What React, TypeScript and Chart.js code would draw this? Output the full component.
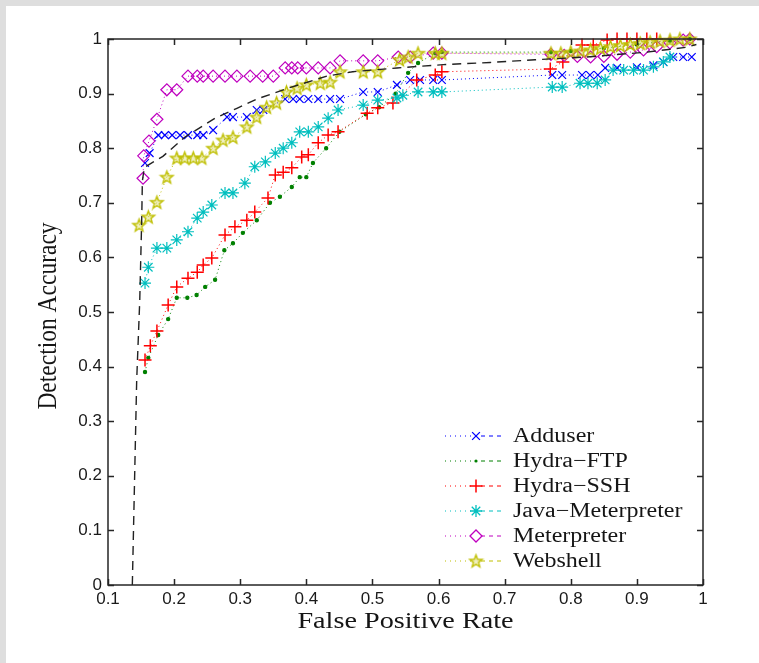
import { useEffect, useRef } from "react";
import { Chart, registerables } from "chart.js";
Chart.register(...registerables);

// ---------- data ----------
const seriesNames = ["Adduser", "Hydra−FTP", "Hydra−SSH", "Java−Meterpreter", "Meterpreter", "Webshell"];
const xTitle = "False Positive Rate";
const yTitle = "Detection Accuracy";

const adduser: [number, number][] = [
  [0.156, 0.773], [0.163, 0.791], [0.176, 0.824], [0.186, 0.824], [0.197, 0.824], [0.209, 0.824],
  [0.221, 0.824], [0.235, 0.824], [0.244, 0.824], [0.259, 0.833], [0.28, 0.857], [0.289, 0.857],
  [0.31, 0.857], [0.325, 0.87], [0.335, 0.87], [0.368, 0.89], [0.38, 0.89], [0.39, 0.89],
  [0.403, 0.89], [0.418, 0.89], [0.436, 0.89], [0.451, 0.89], [0.486, 0.903], [0.508, 0.903],
  [0.537, 0.916], [0.557, 0.925], [0.572, 0.925], [0.592, 0.925], [0.605, 0.925], [0.772, 0.934],
  [0.787, 0.934], [0.817, 0.934], [0.829, 0.934], [0.841, 0.934], [0.852, 0.947], [0.87, 0.947],
  [0.9, 0.948], [0.925, 0.952], [0.94, 0.958], [0.955, 0.967], [0.97, 0.967], [0.983, 0.967],
];

const hydraFtp: [number, number][] = [
  [0.156, 0.39], [0.161, 0.416], [0.176, 0.458], [0.191, 0.487], [0.204, 0.526], [0.22, 0.526],
  [0.234, 0.531], [0.247, 0.546], [0.262, 0.559], [0.276, 0.613], [0.289, 0.626], [0.304, 0.645],
  [0.325, 0.668], [0.345, 0.7], [0.36, 0.711], [0.378, 0.729], [0.39, 0.747], [0.4, 0.747],
  [0.41, 0.773], [0.43, 0.8], [0.45, 0.83], [0.49, 0.862], [0.51, 0.875], [0.535, 0.9],
  [0.554, 0.938], [0.569, 0.956], [0.595, 0.974], [0.605, 0.976], [0.77, 0.976], [0.8, 0.978],
  [0.85, 0.983], [0.9, 0.99], [0.95, 0.997], [0.98, 1.0],
];

const hydraSsh: [number, number][] = [
  [0.156, 0.412], [0.164, 0.438], [0.174, 0.465], [0.191, 0.513], [0.204, 0.546], [0.221, 0.562],
  [0.235, 0.573], [0.244, 0.586], [0.257, 0.599], [0.277, 0.641], [0.292, 0.656], [0.31, 0.668],
  [0.322, 0.683], [0.342, 0.709], [0.353, 0.751], [0.365, 0.756], [0.378, 0.764], [0.393, 0.784],
  [0.403, 0.788], [0.418, 0.81], [0.433, 0.824], [0.448, 0.83], [0.492, 0.864], [0.508, 0.874],
  [0.531, 0.883], [0.567, 0.925], [0.595, 0.934], [0.605, 0.94], [0.769, 0.945], [0.788, 0.958],
  [0.817, 0.989], [0.834, 0.989], [0.855, 0.998], [0.87, 1.0], [0.885, 1.0], [0.9, 1.0],
  [0.915, 1.0], [0.93, 1.0],
];

const javaMeterpreter: [number, number][] = [
  [0.156, 0.553], [0.161, 0.582], [0.174, 0.617], [0.189, 0.617], [0.204, 0.632], [0.221, 0.647],
  [0.235, 0.672], [0.244, 0.683], [0.257, 0.696], [0.277, 0.718], [0.289, 0.718], [0.307, 0.736],
  [0.322, 0.766], [0.338, 0.775], [0.353, 0.791], [0.365, 0.8], [0.378, 0.81], [0.39, 0.83],
  [0.403, 0.83], [0.418, 0.839], [0.433, 0.855], [0.448, 0.87], [0.486, 0.879], [0.508, 0.888],
  [0.537, 0.892], [0.546, 0.897], [0.569, 0.903], [0.592, 0.903], [0.605, 0.903], [0.772, 0.912],
  [0.787, 0.912], [0.814, 0.919], [0.826, 0.919], [0.84, 0.919], [0.852, 0.925], [0.864, 0.943],
  [0.88, 0.943], [0.895, 0.943], [0.91, 0.943], [0.925, 0.949], [0.94, 0.958], [0.95, 0.967],
];

const meterpreter: [number, number][] = [
  [0.153, 0.745], [0.154, 0.786], [0.162, 0.813], [0.174, 0.853], [0.189, 0.907], [0.204, 0.907],
  [0.221, 0.932], [0.235, 0.932], [0.244, 0.932], [0.259, 0.932], [0.277, 0.932], [0.295, 0.932],
  [0.315, 0.932], [0.334, 0.932], [0.35, 0.932], [0.368, 0.947], [0.378, 0.947], [0.387, 0.947],
  [0.4, 0.947], [0.418, 0.947], [0.436, 0.947], [0.451, 0.96], [0.486, 0.96], [0.508, 0.96],
  [0.539, 0.967], [0.557, 0.967], [0.592, 0.974], [0.605, 0.974], [0.77, 0.972], [0.79, 0.97],
  [0.81, 0.968], [0.83, 0.967], [0.85, 0.968], [0.87, 0.972], [0.89, 0.976], [0.91, 0.98],
  [0.93, 0.986], [0.95, 0.993], [0.97, 0.998], [0.98, 1.0],
];

const webshell: [number, number][] = [
  [0.147, 0.659], [0.161, 0.674], [0.174, 0.701], [0.189, 0.747], [0.204, 0.782], [0.216, 0.782],
  [0.229, 0.782], [0.242, 0.782], [0.259, 0.8], [0.274, 0.815], [0.289, 0.82], [0.31, 0.839],
  [0.325, 0.857], [0.34, 0.875], [0.355, 0.883], [0.37, 0.903], [0.386, 0.91], [0.4, 0.916],
  [0.421, 0.919], [0.436, 0.921], [0.451, 0.94], [0.486, 0.94], [0.508, 0.94], [0.541, 0.962],
  [0.554, 0.967], [0.569, 0.974], [0.595, 0.974], [0.605, 0.974], [0.77, 0.974], [0.785, 0.974],
  [0.8, 0.976], [0.815, 0.978], [0.83, 0.98], [0.845, 0.983], [0.86, 0.986], [0.875, 0.988],
  [0.89, 0.99], [0.905, 0.992], [0.92, 0.994], [0.935, 0.996], [0.95, 0.998], [0.965, 1.0], [0.98, 1.0],
];

const referenceCurve: [number, number][] = [
  [0.1368, 0], [0.1434, 0.375], [0.148, 0.52], [0.151, 0.67], [0.152, 0.74], [0.155, 0.765],
  [0.183, 0.785], [0.216, 0.82], [0.262, 0.855], [0.295, 0.873], [0.325, 0.89], [0.375, 0.911],
  [0.431, 0.932], [0.47, 0.94], [0.537, 0.947], [0.607, 0.953], [0.678, 0.957], [0.746, 0.962],
  [0.824, 0.967], [0.915, 0.976], [0.976, 0.985], [0.99, 0.99],
];

const xTickValues = [0.1, 0.2, 0.3, 0.4, 0.5, 0.6, 0.7, 0.8, 0.9, 1];
const yTickValues = [0, 0.1, 0.2, 0.3, 0.4, 0.5, 0.6, 0.7, 0.8, 0.9, 1];

// ---------- styles ----------
const colors = ["#0000ff", "#008000", "#ff0000", "#00bfbf", "#bf00bf", "#bfbf00"];
const markerKinds = ["x", "dot", "plus", "asterisk", "diamond", "pentagram"];
const allSeries = [adduser, hydraFtp, hydraSsh, javaMeterpreter, meterpreter, webshell];
const SERIF = "'Liberation Serif', 'Times New Roman', serif";
const STRETCH = 1.2; // the reference figure is horizontally stretched

const fmt = (v: number) => String(Number(v.toFixed(1)));

function makePentagram(color: string, r: number): HTMLCanvasElement {
  const size = Math.ceil(r * 2 + 4);
  const c = document.createElement("canvas");
  c.width = size;
  c.height = size;
  const g = c.getContext("2d")!;
  const cx = size / 2, cy = size / 2 + 0.5;
  const inner = r * 0.42;
  g.beginPath();
  for (let k = 0; k < 10; k++) {
    const rr = k % 2 === 0 ? r : inner;
    const a = -Math.PI / 2 + (k * Math.PI) / 5;
    const px = cx + rr * Math.cos(a), py = cy + rr * Math.sin(a);
    if (k === 0) g.moveTo(px, py); else g.lineTo(px, py);
  }
  g.closePath();
  g.fillStyle = "rgba(191,191,0,0.25)";
  g.fill();
  g.strokeStyle = color;
  g.lineWidth = 1.4;
  g.stroke();
  return c;
}

function drawMarker(ctx: CanvasRenderingContext2D, kind: string, x: number, y: number, color: string, star: HTMLCanvasElement) {
  ctx.save();
  ctx.strokeStyle = color;
  ctx.fillStyle = color;
  ctx.lineWidth = 1.3;
  ctx.setLineDash([]);
  ctx.beginPath();
  if (kind === "x") {
    const d = 3.9;
    ctx.moveTo(x - d, y - d); ctx.lineTo(x + d, y + d);
    ctx.moveTo(x - d, y + d); ctx.lineTo(x + d, y - d);
    ctx.stroke();
  } else if (kind === "dot") {
    ctx.arc(x, y, 1.6, 0, Math.PI * 2);
    ctx.fill();
  } else if (kind === "plus") {
    const d = 6.5;
    ctx.lineWidth = 1.5;
    ctx.moveTo(x - d, y); ctx.lineTo(x + d, y);
    ctx.moveTo(x, y - d); ctx.lineTo(x, y + d);
    ctx.stroke();
  } else if (kind === "asterisk") {
    const d = 6, e = 6 * Math.SQRT1_2;
    ctx.moveTo(x - d, y); ctx.lineTo(x + d, y);
    ctx.moveTo(x, y - d); ctx.lineTo(x, y + d);
    ctx.moveTo(x - e, y - e); ctx.lineTo(x + e, y + e);
    ctx.moveTo(x - e, y + e); ctx.lineTo(x + e, y - e);
    ctx.stroke();
  } else if (kind === "diamond") {
    const d = 6;
    ctx.moveTo(x - d, y); ctx.lineTo(x, y - d); ctx.lineTo(x + d, y); ctx.lineTo(x, y + d);
    ctx.closePath();
    ctx.stroke();
  } else if (kind === "pentagram") {
    ctx.drawImage(star, x - star.width / 2, y - star.height / 2);
  }
  ctx.restore();
}

function stretchedText(ctx: CanvasRenderingContext2D, text: string, x: number, y: number, font: string, rotate: boolean, align: CanvasTextAlign) {
  ctx.save();
  ctx.translate(x, y);
  ctx.scale(STRETCH, 1);
  if (rotate) ctx.rotate(-Math.PI / 2);
  ctx.font = font;
  ctx.fillStyle = "#151515";
  ctx.textAlign = align;
  ctx.textBaseline = "middle";
  ctx.fillText(text, 0, 0);
  ctx.restore();
}

export default function App() {
  const ref = useRef<HTMLCanvasElement | null>(null);

  useEffect(() => {
    if (!ref.current) return;
    document.documentElement.style.overflow = "hidden";
    document.body.style.background = "#ffffff";
    const star = makePentagram(colors[5], 6.5);

    const pointStyleFor = (kind: string): any => {
      switch (kind) {
        case "x": return "crossRot";
        case "dot": return "circle";
        case "plus": return "cross";
        case "asterisk": return "star";
        case "diamond": return "rectRot";
        default: return star;
      }
    };
    const radiusFor = (kind: string) =>
      kind === "x" ? 5.5 : kind === "dot" ? 1.6 : kind === "plus" ? 6.5 : 6;

    const datasets: any[] = allSeries.map((s, i) => ({
      label: seriesNames[i],
      data: s.map(([x, y]) => ({ x, y })),
      showLine: true,
      borderColor: colors[i],
      borderWidth: 1,
      borderDash: [1, 3],
      pointStyle: pointStyleFor(markerKinds[i]),
      pointRadius: radiusFor(markerKinds[i]),
      pointBorderColor: colors[i],
      pointBackgroundColor: markerKinds[i] === "dot" ? colors[i] : "rgba(0,0,0,0)",
      pointBorderWidth: markerKinds[i] === "plus" ? 1.5 : 1.2,
      order: 10 - i,
      clip: false,
      tension: 0,
    }));
    datasets.push({
      label: "reference",
      data: referenceCurve.map(([x, y]) => ({ x, y })),
      showLine: true,
      borderColor: "#222222",
      borderWidth: 1.4,
      borderDash: [9, 6],
      pointRadius: 0,
      order: 0,
      tension: 0,
    });

    const framePlugin = {
      id: "frameTicks",
      afterDraw(chart: any) {
        const { ctx, chartArea: a } = chart;
        const xs = chart.scales.x, ys = chart.scales.y;
        ctx.save();
        ctx.strokeStyle = "#262626";
        ctx.lineWidth = 1.5;
        ctx.setLineDash([]);
        const tl = 6;
        ctx.beginPath();
        xTickValues.forEach((v) => {
          const px = Math.round(xs.getPixelForValue(v)) + 0.5;
          ctx.moveTo(px, a.bottom); ctx.lineTo(px, a.bottom - tl);
          ctx.moveTo(px, a.top); ctx.lineTo(px, a.top + tl);
        });
        yTickValues.forEach((v) => {
          const py = Math.round(ys.getPixelForValue(v)) + 0.5;
          ctx.moveTo(a.left, py); ctx.lineTo(a.left + tl, py);
          ctx.moveTo(a.right, py); ctx.lineTo(a.right - tl, py);
        });
        ctx.stroke();
        ctx.strokeRect(a.left, a.top, a.right - a.left, a.bottom - a.top);
        ctx.restore();

        // axis titles
        const titleFont = `23.5px ${SERIF}`;
        stretchedText(ctx, xTitle, (a.left + a.right) / 2, a.bottom + 37, titleFont, false, "center");
        stretchedText(ctx, yTitle, a.left - 59, (a.top + a.bottom) / 2 + 4, titleFont, true, "center");

        // legend
        ctx.save();
        const lx = a.right - 258;
        const ly0 = a.bottom - 149;
        const rowH = 25;
        seriesNames.forEach((name, i) => {
          const y = ly0 + i * rowH;
          ctx.strokeStyle = colors[i];
          ctx.lineWidth = 1;
          ctx.setLineDash([1, 4]);
          ctx.beginPath();
          ctx.moveTo(lx, y); ctx.lineTo(lx + 27, y);
          ctx.stroke();
          ctx.setLineDash([4, 4]);
          ctx.beginPath();
          ctx.moveTo(lx + 36, y); ctx.lineTo(lx + 60, y);
          ctx.stroke();
          drawMarker(ctx, markerKinds[i], lx + 31, y, colors[i], star);
          ctx.setLineDash([]);
          stretchedText(ctx, name, lx + 68, y + 1, `20px ${SERIF}`, false, "left");
        });
        ctx.restore();
      },
    };

    const chart = new Chart(ref.current, {
      type: "scatter",
      data: { datasets },
      options: {
        animation: false,
        responsive: false,
        events: [],
        layout: { padding: { left: 0, top: 39, right: 56, bottom: 0 } },
        plugins: { legend: { display: false }, tooltip: { enabled: false } },
        scales: {
          x: {
            type: "linear",
            min: 0.1,
            max: 1,
            afterFit: (s: any) => { s.height = 78; },
            afterBuildTicks: (s: any) => { s.ticks = xTickValues.map((v) => ({ value: v })); },
            grid: { display: false, drawTicks: false },
            border: { display: false },
            ticks: {
              padding: 4,
              color: "#1a1a1a",
              maxRotation: 0,
              autoSkip: false,
              font: { family: "'Liberation Sans', Arial, sans-serif", size: 17 },
              callback: (v: any) => fmt(Number(v)),
            },
          },
          y: {
            type: "linear",
            min: 0,
            max: 1,
            afterFit: (s: any) => { s.width = 108; },
            afterBuildTicks: (s: any) => { s.ticks = yTickValues.map((v) => ({ value: v })); },
            grid: { display: false, drawTicks: false },
            border: { display: false },
            ticks: {
              padding: 6,
              color: "#1a1a1a",
              autoSkip: false,
              font: { family: "'Liberation Sans', Arial, sans-serif", size: 17 },
              callback: (v: any) => fmt(Number(v)),
            },
          },
        },
      },
      plugins: [framePlugin],
    });
    return () => chart.destroy();
  }, []);

  return (
    <div style={{ position: "fixed", left: 0, top: 0, right: 0, bottom: 0, background: "#ffffff", overflow: "hidden" }}>
      <div style={{ position: "absolute", left: 0, top: 0, width: 759, height: 6, background: "#dedede" }} />
      <div style={{ position: "absolute", left: 0, top: 0, width: 6, height: 663, background: "#dedede" }} />
      <canvas ref={ref} width={759} height={663} style={{ position: "absolute", left: 0, top: 0 }} />
    </div>
  );
}
